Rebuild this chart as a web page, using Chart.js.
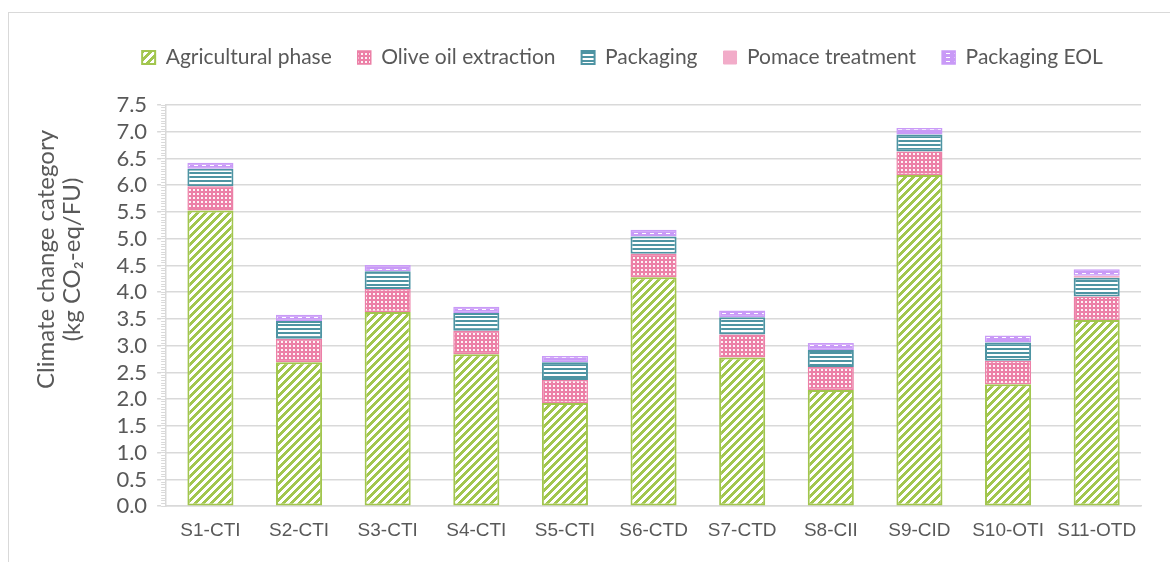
<!DOCTYPE html>
<html>
<head>
<meta charset="utf-8">
<script src="https://cdn.jsdelivr.net/npm/chart.js@4"></script>
<style>
  html, body { margin: 0; padding: 0; background: #ffffff; overflow: hidden; width: 1170px; height: 562px; }
  #frame { position: absolute; left: 8px; top: 12px; width: 1200px; height: 600px;
           border-left: 1.5px solid #D9D9D9; border-top: 1.5px solid #D9D9D9; }
  #c { position: absolute; left: 0; top: 0; }
</style>
</head>
<body>
<div id="frame"></div>
<canvas id="c" width="1280" height="562"></canvas>
<script>
// ---- data ----
const categories = ['S1-CTI','S2-CTI','S3-CTI','S4-CTI','S5-CTI','S6-CTD','S7-CTD','S8-CII','S9-CID','S10-OTI','S11-OTD'];
const seriesNames = ['Agricultural phase','Olive oil extraction','Packaging','Pomace treatment','Packaging EOL'];
const agricultural = [5.53, 2.69, 3.63, 2.84, 1.93, 4.28, 2.78, 2.17, 6.19, 2.28, 3.48];
const oliveOil     = [0.45, 0.44, 0.43, 0.44, 0.43, 0.44, 0.43, 0.43, 0.44, 0.44, 0.44];
const packaging    = [0.33, 0.33, 0.33, 0.33, 0.33, 0.32, 0.32, 0.32, 0.32, 0.34, 0.35];
const pomace       = [0, 0, 0, 0, 0, 0, 0, 0, 0, 0, 0.04];
const packagingEOL = [0.11, 0.12, 0.12, 0.12, 0.12, 0.13, 0.13, 0.13, 0.12, 0.13, 0.12];
const yTickValues  = [0, 0.5, 1, 1.5, 2, 2.5, 3, 3.5, 4, 4.5, 5, 5.5, 6, 6.5, 7, 7.5];
const yTitle = ['Climate change category', '(kg CO\u2082-eq/FU)'];

// ---- patterns ----
function tile(w, h, fn) {
  const c = document.createElement('canvas');
  c.width = w; c.height = h;
  const x = c.getContext('2d');
  fn(x, w, h);
  return x.createPattern(c, 'repeat');
}
const ctx = document.getElementById('c').getContext('2d');
const GREEN = '#A2C64E', PINK = '#EC80A7', TEAL = '#4E94A3', LPINK = '#F2ACC9', PURPLE = '#C99AF7';

const patAgri = tile(8, 8, (x, w, h) => {
  x.fillStyle = '#ffffff'; x.fillRect(0, 0, w, h);
  x.fillStyle = GREEN;
  for (let py = 0; py < h; py++) for (let px = 0; px < w; px++) {
    if ((px + py) % 8 < 4) x.fillRect(px, py, 1, 1);
  }
});
const patOlive = tile(4, 4, (x, w, h) => {
  x.fillStyle = PINK; x.fillRect(0, 0, w, h);
  x.fillStyle = 'rgba(255,255,255,0.9)'; x.fillRect(1, 1, 2, 2);
});
const patPack = tile(4, 4, (x, w, h) => {
  x.fillStyle = '#ffffff'; x.fillRect(0, 0, w, h);
  x.fillStyle = TEAL; x.fillRect(0, 0, w, 2);
});
const patEOL = tile(8, 4, (x, w, h) => {
  x.fillStyle = PURPLE; x.fillRect(0, 0, w, h);
  x.fillStyle = '#ffffff'; x.fillRect(2, 1, 4, 1);
});

const seriesValues = [agricultural, oliveOil, packaging, pomace, packagingEOL];
const fills = [patAgri, patOlive, patPack, LPINK, patEOL];
const strokes = [GREEN, PINK, TEAL, LPINK, PURPLE];
const widths = [2, 1.5, 2, 1, 1.5];

const datasets = seriesNames.map((name, i) => ({
  label: name,
  data: seriesValues[i],
  backgroundColor: fills[i],
  borderColor: strokes[i],
  borderWidth: widths[i],
  borderSkipped: false,
  barPercentage: 0.52,
  categoryPercentage: 1.0
}));

const GRID = '#D9D9D9', TXT = '#595959';
const pad = '               ';

new Chart(ctx, {
  type: 'bar',
  data: { labels: categories, datasets },
  options: {
    responsive: false,
    animation: false,
    devicePixelRatio: 1,
    layout: { padding: { left: 30, right: 65, top: 21, bottom: 15 } },
    plugins: {
      legend: {
        position: 'top',
        align: 'center',
        labels: {
          boxWidth: 13, boxHeight: 13, padding: 26,
          color: TXT,
          font: { family: 'Lato', size: 21 }
        }
      },
      tooltip: { enabled: false }
    },
    scales: {
      x: {
        stacked: true,
        offset: true,
        grid: { display: false },
        border: { display: true, color: GRID, width: 1.5 },
        ticks: { color: TXT, font: { family: 'Liberation Sans', size: 19 }, padding: 5 }
      },
      xTop: {
        type: 'category',
        position: 'top',
        display: true,
        grid: { display: false },
        border: { display: false },
        ticks: { display: false },
        afterFit: s => { s.height = 27; }
      },
      y: {
        stacked: true,
        position: 'left',
        weight: 1,
        min: 0, max: 7.5,
        afterBuildTicks: s => { s.ticks = yTickValues.map(v => ({ value: v })); },
        grid: { color: GRID, lineWidth: 1.5, tickLength: 4 },
        border: { display: false },
        ticks: {
          autoSkip: false,
          color: TXT, font: { family: 'Lato', size: 22 }, padding: 10,
          callback: v => Number(v).toFixed(1)
        },
        title: {
          display: true,
          text: [pad + yTitle[0], pad + yTitle[1]],
          color: TXT,
          font: { family: 'Lato', size: 24, lineHeight: 1.05 },
          padding: { top: 4, bottom: 22 }
        }
      },
      yMinor: {
        type: 'linear',
        position: 'left',
        weight: 0,
        min: 0, max: 7.5,
        ticks: { display: false, stepSize: 0.05 },
        grid: { drawOnChartArea: false, tickLength: 5, color: GRID, lineWidth: 1 },
        border: { display: true, color: GRID, width: 1.5 }
      },
      yR: {
        type: 'linear',
        position: 'right',
        display: true,
        grid: { display: false },
        border: { display: false },
        ticks: { display: false },
        afterFit: s => { s.width = 74; }
      }
    }
  }
});
</script>
</body>
</html>
